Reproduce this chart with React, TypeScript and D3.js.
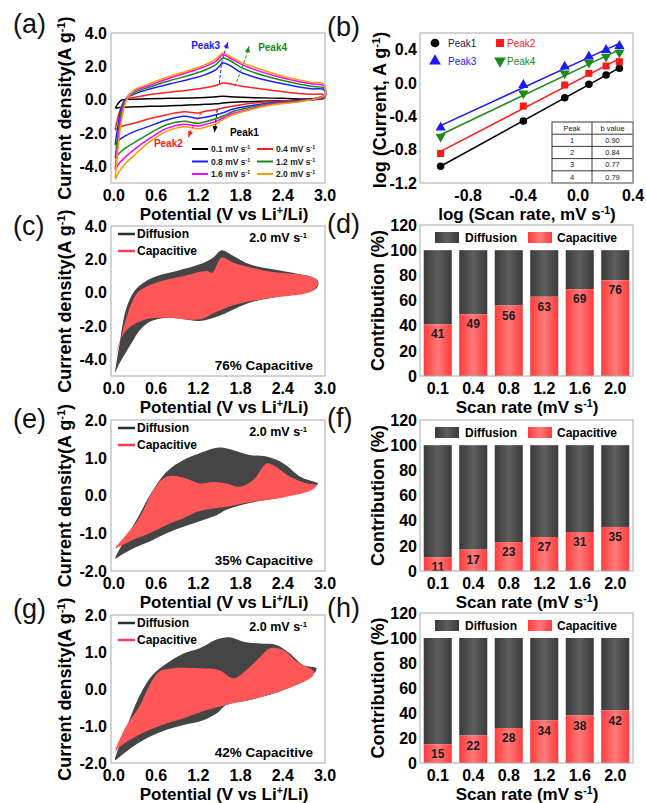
import React, { useEffect, useRef } from 'react'
import * as d3 from 'd3'

// ---------- (a) CV loops at several scan rates ----------
const rates = ['0.1', '0.4', '0.8', '1.2', '1.6', '2.0']
const rateColors = ['#000000', '#ff2020', '#2020ff', '#1b8a1b', '#ff00ff', '#ff9900']
const cvUpV = [0.02, 0.05, 0.1, 0.15, 0.2, 0.3, 0.5, 0.8, 1.1, 1.3, 1.45, 1.55, 1.65, 1.8, 2.0, 2.4, 2.8, 2.98]
const cvLoV = [3.0, 2.7, 2.2, 1.9, 1.7, 1.55, 1.45, 1.3, 1.2, 1.0, 0.75, 0.5, 0.3, 0.15, 0.08, 0.04, 0.025]
const cvUp = [
  [-0.5, -0.3, -0.05, 0.0, 0.02, 0.03, 0.05, 0.08, 0.1, 0.13, 0.17, 0.2, 0.18, 0.15, 0.12, 0.08, 0.05, 0.2],
  [-1.8, -1.2, -0.5, -0.1, 0.05, 0.15, 0.3, 0.45, 0.6, 0.72, 0.85, 1.0, 0.95, 0.82, 0.7, 0.48, 0.32, 0.3],
  [-2.7, -1.8, -0.6, -0.05, 0.15, 0.35, 0.62, 0.95, 1.25, 1.5, 1.8, 2.2, 2.05, 1.65, 1.35, 0.95, 0.65, 0.6],
  [-3.5, -2.4, -0.9, -0.15, 0.2, 0.45, 0.75, 1.15, 1.5, 1.78, 2.1, 2.5, 2.35, 1.95, 1.62, 1.15, 0.8, 0.7],
  [-4.2, -2.9, -1.2, -0.3, 0.2, 0.55, 0.85, 1.3, 1.7, 2.0, 2.3, 2.7, 2.5, 2.15, 1.8, 1.3, 0.95, 0.85],
  [-4.7, -3.3, -1.5, -0.4, 0.15, 0.6, 0.95, 1.4, 1.8, 2.1, 2.45, 2.8, 2.6, 2.25, 1.95, 1.4, 1.05, 0.95],
]
const cvLo = [
  [0.2, -0.02, -0.08, -0.12, -0.15, -0.2, -0.25, -0.28, -0.3, -0.33, -0.38, -0.4, -0.42, -0.45, -0.47, -0.5, -0.5],
  [0.1, -0.02, -0.12, -0.25, -0.38, -0.5, -0.6, -0.7, -0.8, -0.72, -0.9, -1.15, -1.4, -1.55, -1.65, -1.75, -1.8],
  [0.15, -0.03, -0.2, -0.4, -0.56, -0.78, -0.9, -1.05, -1.12, -1.0, -1.22, -1.6, -1.9, -2.2, -2.4, -2.6, -2.7],
  [0.2, -0.04, -0.25, -0.5, -0.7, -0.98, -1.15, -1.32, -1.42, -1.3, -1.5, -2.05, -2.55, -2.95, -3.2, -3.4, -3.5],
  [0.25, -0.06, -0.3, -0.6, -0.82, -1.1, -1.3, -1.48, -1.58, -1.48, -1.72, -2.35, -2.95, -3.5, -3.8, -4.05, -4.2],
  [0.3, -0.08, -0.35, -0.65, -0.9, -1.2, -1.45, -1.65, -1.75, -1.62, -1.9, -2.55, -3.3, -3.9, -4.3, -4.6, -4.75],
]
const peakGuides = [
  { label: 'Peak3', color: '#2020ff', pts: [[1.5, 1.0], [1.53, 2.2], [1.57, 2.8], [1.62, 3.45]], text: [1.51, 3.04], anchor: 'end' },
  { label: 'Peak4', color: '#1b8a1b', pts: [[1.72, 0.8], [1.82, 1.9], [1.88, 2.6], [1.92, 3.2]], text: [2.05, 2.92], anchor: 'start' },
  { label: 'Peak2', color: '#ff2020', pts: [[1.24, -0.8], [1.15, -1.45], [1.1, -1.8], [1.06, -2.25]], text: [0.98, -2.84], anchor: 'end' },
  { label: 'Peak1', color: '#000000', pts: [[1.47, -0.6], [1.45, -1.2], [1.44, -1.6], [1.43, -1.95]], text: [1.65, -2.18], anchor: 'start' },
]

// ---------- (b) log i vs log v ----------
const logRate = [-1, -0.398, -0.097, 0.079, 0.204, 0.301]
const peak1Log = [-1.0, -0.456, -0.176, -0.016, 0.096, 0.176]
const peak2Log = [-0.845, -0.276, -0.024, 0.116, 0.204, 0.256]
const peak3Log = [-0.536, -0.024, 0.196, 0.316, 0.396, 0.444]
const peak4Log = [-0.644, -0.124, 0.116, 0.244, 0.316, 0.364]
const peakIds = ['1', '2', '3', '4']
const bValues = ['0.90', '0.84', '0.77', '0.79']

// ---------- (c)(e)(g) diffusion / capacitive separation at 2.0 mV/s ----------
const cDiffUpV = [0.02, 0.085, 0.17, 0.27, 0.36, 0.55, 0.89, 1.22, 1.41, 1.53, 1.7, 1.93, 2.4, 2.84, 2.9]
const cDiffUpI = [-4.8, -3.0, -1.04, -0.05, 0.4, 0.9, 1.3, 1.7, 2.1, 2.55, 2.2, 1.7, 1.3, 0.9, 0.7]
const cDiffLoV = [2.9, 2.82, 2.4, 1.93, 1.46, 1.22, 0.99, 0.75, 0.51, 0.36, 0.27, 0.17, 0.085, 0.04]
const cDiffLoI = [0.4, 0.1, -0.2, -0.6, -1.45, -1.7, -1.6, -1.5, -1.74, -2.3, -2.9, -3.6, -4.2, -4.6]
const cCapUpV = [0.03, 0.085, 0.17, 0.27, 0.36, 0.6, 0.99, 1.32, 1.4, 1.53, 1.7, 2.17, 2.84, 2.9]
const cCapUpI = [-3.8, -3.0, -1.64, -0.45, 0.1, 0.6, 1.0, 1.3, 1.2, 2.1, 1.8, 1.3, 0.9, 0.6]
const cCapLoV = [2.82, 2.17, 1.7, 1.46, 1.22, 0.75, 0.51, 0.36, 0.27, 0.17, 0.085, 0.04]
const cCapLoI = [0.1, -0.35, -0.75, -1.15, -1.6, -1.5, -1.55, -1.74, -1.94, -2.3, -2.9, -3.6]

const eDiffUpV = [0.02, 0.17, 0.36, 0.51, 0.75, 0.99, 1.22, 1.5, 1.7, 1.93, 2.17, 2.41, 2.65, 2.84, 2.9]
const eDiffUpI = [-1.67, -1.13, -0.52, 0.0, 0.63, 0.94, 1.12, 1.27, 1.2, 1.07, 1.03, 0.85, 0.5, 0.37, 0.32]
const eDiffLoV = [2.82, 2.41, 1.93, 1.6, 1.46, 1.22, 0.99, 0.75, 0.51, 0.27, 0.085]
const eDiffLoI = [0.19, -0.03, -0.2, -0.38, -0.52, -0.68, -0.83, -1.0, -1.22, -1.41, -1.6]
const eCapUpV = [0.02, 0.17, 0.36, 0.55, 0.7, 0.84, 1.03, 1.22, 1.41, 1.6, 1.79, 1.98, 2.17, 2.27, 2.5, 2.75, 2.88]
const eCapUpI = [-1.4, -1.05, -0.6, 0.1, 0.45, 0.52, 0.45, 0.32, 0.36, 0.32, 0.23, 0.41, 0.85, 0.8, 0.5, 0.32, 0.28]
const eCapLoV = [2.82, 2.41, 1.93, 1.6, 1.22, 0.99, 0.75, 0.51, 0.27, 0.085]
const eCapLoI = [0.15, -0.05, -0.18, -0.3, -0.41, -0.6, -0.78, -1.0, -1.18, -1.35]

const gDiffUpV = [0.02, 0.17, 0.36, 0.55, 0.75, 0.99, 1.22, 1.46, 1.65, 1.84, 2.08, 2.31, 2.5, 2.69, 2.88]
const gDiffUpI = [-1.92, -1.1, -0.2, 0.38, 0.69, 0.96, 1.1, 1.34, 1.4, 1.28, 1.23, 1.19, 0.96, 0.65, 0.56]
const gDiffLoV = [2.82, 2.41, 1.93, 1.6, 1.46, 1.22, 0.99, 0.75, 0.51, 0.27, 0.085]
const gDiffLoI = [0.38, -0.03, -0.3, -0.43, -0.66, -0.88, -0.97, -1.1, -1.29, -1.56, -1.83]
const gCapUpV = [0.02, 0.17, 0.36, 0.51, 0.65, 0.84, 1.22, 1.5, 1.7, 1.88, 2.08, 2.22, 2.41, 2.6, 2.84]
const gCapUpI = [-1.69, -1.02, -0.48, 0.11, 0.47, 0.56, 0.56, 0.51, 0.29, 0.51, 0.87, 1.1, 1.05, 0.74, 0.47]
const gCapLoV = [2.82, 2.41, 1.93, 1.6, 1.32, 0.99, 0.75, 0.51, 0.27, 0.085]
const gCapLoI = [0.34, -0.03, -0.3, -0.43, -0.57, -0.79, -0.93, -1.1, -1.33, -1.56]

// ---------- (d)(f)(h) contribution bars ----------
const scanRates = ['0.1', '0.4', '0.8', '1.2', '1.6', '2.0']
const capD = [41, 49, 56, 63, 69, 76]
const capF = [11, 17, 23, 27, 31, 35]
const capH = [15, 22, 28, 34, 38, 42]

const potTicks = [0, 0.6, 1.2, 1.8, 2.4, 3.0]
const pctTicks = [0, 20, 40, 60, 80, 100, 120]

const FONT = '"Liberation Sans", Arial, Helvetica, sans-serif'
const FRAME = '#a8a8a8'
const DARK = '#454545'
const RED = '#ff5757'

type Sel = d3.Selection<any, any, any, any>
type Part = [string, boolean?]

function rich(t: Sel, parts: Part[]) {
  parts.forEach(([s, sup]) => {
    const ts = t.append('tspan').text(s)
    if (sup) ts.attr('baseline-shift', 'super').attr('font-size', '62%')
  })
  return t
}

function zip(xs: number[], ys: number[]) {
  return xs.map((x, i) => [x, ys[i]] as [number, number])
}

function fit(xs: number[], ys: number[]) {
  const mx = d3.mean(xs) as number
  const my = d3.mean(ys) as number
  let num = 0
  let den = 0
  xs.forEach((x, i) => {
    num += (x - mx) * (ys[i] - my)
    den += (x - mx) * (x - mx)
  })
  const k = num / den
  return [k, my - k * mx]
}

function frame(svg: Sel, x0: number, x1: number, y0: number, y1: number) {
  svg.append('rect').attr('x', x0).attr('y', y0).attr('width', x1 - x0).attr('height', y1 - y0)
    .attr('fill', 'none').attr('stroke', FRAME).attr('stroke-width', 1)
}

function panelLabel(svg: Sel, x: number, y: number, s: string) {
  svg.append('text').attr('x', x).attr('y', y).attr('font-size', 27).attr('fill', '#111').text(s)
}

function yTicks(svg: Sel, y: d3.ScaleLinear<number, number>, ticks: number[], fmt: (v: number) => string, xr: number) {
  ticks.forEach(v => {
    svg.append('text').attr('x', xr).attr('y', y(v)).attr('dy', '0.36em').attr('text-anchor', 'end')
      .attr('font-size', 16).attr('font-weight', 'bold').text(fmt(v))
  })
}

function yTitle(svg: Sel, cx: number, cy: number, parts: Part[]) {
  const t = svg.append('text').attr('transform', `translate(${cx},${cy}) rotate(-90)`).attr('dy', '0.36em')
    .attr('text-anchor', 'middle').attr('font-size', 18).attr('font-weight', 'bold')
  rich(t, parts)
}

function xTitle(svg: Sel, cx: number, y: number, parts: Part[]) {
  const t = svg.append('text').attr('x', cx).attr('y', y).attr('text-anchor', 'middle')
    .attr('font-size', 17).attr('font-weight', 'bold')
  rich(t, parts)
}

const potParts: Part[] = [['Potential (V vs Li'], ['+', true], ['/Li)']]
const cdParts: Part[] = [['Current density(A g'], ['-1', true], [')']]
const f1 = (v: number) => v.toFixed(1)

const leftX = d3.scaleLinear().domain([-0.04, 3.0]).range([111, 325])

function leftAxes(svg: Sel, y: d3.ScaleLinear<number, number>, ticks: number[]) {
  const [bottom, top] = y.range()
  frame(svg, 111, 325, top, bottom)
  yTicks(svg, y, ticks, f1, 107)
  potTicks.forEach(v => {
    svg.append('text').attr('x', leftX(v)).attr('y', bottom + 18).attr('text-anchor', 'middle')
      .attr('font-size', 16).attr('font-weight', 'bold').text(f1(v))
  })
  xTitle(svg, 224, bottom + 36.5, potParts)
  yTitle(svg, 65, (top + bottom) / 2, cdParts)
}

function separation(svg: Sel, y: d3.ScaleLinear<number, number>, ticks: number[],
  dUpV: number[], dUpI: number[], dLoV: number[], dLoI: number[],
  cUpV: number[], cUpI: number[], cLoV: number[], cLoI: number[], pct: string) {
  const [bottom, top] = y.range()
  const line = d3.line<[number, number]>().x(d => leftX(d[0])).y(d => y(d[1]))
    .curve(d3.curveCatmullRomClosed.alpha(0.5))
  svg.append('path').attr('d', line(zip(dUpV, dUpI).concat(zip(dLoV, dLoI)))).attr('fill', DARK)
  svg.append('path').attr('d', line(zip(cUpV, cUpI).concat(zip(cLoV, cLoI)))).attr('fill', RED)
  leftAxes(svg, y, ticks)
  const leg = [['Diffusion', '#243434'], ['Capacitive', '#ff3a5a']]
  leg.forEach(([name, col], i) => {
    const ly = top + 8 + i * 17
    svg.append('line').attr('x1', 118).attr('x2', 135).attr('y1', ly).attr('y2', ly)
      .attr('stroke', col).attr('stroke-width', 2.5)
    svg.append('text').attr('x', 137).attr('y', ly).attr('dy', '0.36em').attr('font-size', 12)
      .attr('font-weight', 'bold').text(name)
  })
  rich(svg.append('text').attr('x', 307).attr('y', top + 16).attr('text-anchor', 'end')
    .attr('font-size', 12.5).attr('font-weight', 'bold'), [['2.0 mV s'], ['-1', true]])
  svg.append('text').attr('x', 313).attr('y', bottom - 6).attr('text-anchor', 'end')
    .attr('font-size', 13.5).attr('font-weight', 'bold').text(`${pct}% Capacitive`)
}

const barX = d3.scaleBand<string>().domain(scanRates).range([420, 633]).paddingInner(0.21).paddingOuter(0.105)

function bars(svg: Sel, y: d3.ScaleLinear<number, number>, cap: number[]) {
  const [bottom, top] = y.range()
  scanRates.forEach((r, i) => {
    const x = barX(r) as number
    const w = barX.bandwidth()
    svg.append('rect').attr('x', x).attr('width', w).attr('y', y(100)).attr('height', y(cap[i]) - y(100))
      .attr('fill', 'url(#gGray)')
    svg.append('rect').attr('x', x).attr('width', w).attr('y', y(cap[i])).attr('height', y(0) - y(cap[i]))
      .attr('fill', 'url(#gRed)')
    svg.append('text').attr('x', x + w / 2).attr('y', y(cap[i]) + 14).attr('text-anchor', 'middle')
      .attr('font-size', 12).attr('font-weight', 'bold').attr('fill', '#1a1a1a').text(cap[i])
    svg.append('text').attr('x', x + w / 2).attr('y', bottom + 18).attr('text-anchor', 'middle')
      .attr('font-size', 16).attr('font-weight', 'bold').text(r)
  })
  frame(svg, 420, 633, top, bottom)
  yTicks(svg, y, pctTicks, v => String(v), 417)
  yTitle(svg, 378, (top + bottom) / 2, [['Contribution (%)']])
  xTitle(svg, 527, bottom + 36.5, [['Scan rate (mV s'], ['-1', true], [')']])
  const leg = [['Diffusion', 'url(#gGray)', 435, 465], ['Capacitive', 'url(#gRed)', 528, 557]]
  leg.forEach(([name, fill, sx, tx]) => {
    svg.append('rect').attr('x', sx as number).attr('y', top + 7).attr('width', 24).attr('height', 11)
      .attr('fill', fill as string)
    svg.append('text').attr('x', tx as number).attr('y', top + 12.5).attr('dy', '0.36em')
      .attr('font-size', 12).attr('font-weight', 'bold').text(name as string)
  })
}

function draw(svg: Sel) {
  const defs = svg.append('defs')
  const grad = (id: string, stops: string[]) => {
    const g = defs.append('linearGradient').attr('id', id).attr('x1', '0%').attr('x2', '100%')
    stops.forEach((c, i) => g.append('stop').attr('offset', `${(i * 100) / (stops.length - 1)}%`).attr('stop-color', c))
  }
  grad('gGray', ['#3a3a3a', '#5e5e5e', '#3a3a3a'])
  grad('gRed', ['#ff3b3b', '#ff7a7a', '#ff3b3b'])

  svg.append('rect').attr('width', 646).attr('height', 803).attr('fill', '#fff')

  // (a)
  const yA = d3.scaleLinear().domain([-5, 4]).range([183, 33])
  const cvLine = d3.line<[number, number]>().x(d => leftX(d[0])).y(d => yA(d[1]))
    .curve(d3.curveCatmullRom.alpha(0.5))
  rates.forEach((r, i) => {
    const pts = zip(cvUpV, cvUp[i]).concat(zip(cvLoV, cvLo[i]))
    pts.push([cvUpV[0], cvUp[i][0]])
    svg.append('path').attr('d', cvLine(pts)).attr('fill', 'none').attr('stroke', rateColors[i])
      .attr('stroke-width', 1.5)
  })
  peakGuides.forEach(g => {
    const p = g.pts.map(d => [leftX(d[0]), yA(d[1])] as [number, number])
    svg.append('path').attr('d', d3.line()(p)).attr('fill', 'none').attr('stroke', g.color)
      .attr('stroke-width', 1).attr('stroke-dasharray', '3,2')
    const [x1, y1] = p[p.length - 2]
    const [x2, y2] = p[p.length - 1]
    const ang = (Math.atan2(y2 - y1, x2 - x1) * 180) / Math.PI
    svg.append('path').attr('d', 'M0,0 L-6,-2.6 L-6,2.6 Z').attr('fill', g.color)
      .attr('transform', `translate(${x2},${y2}) rotate(${ang})`)
    svg.append('text').attr('x', leftX(g.text[0])).attr('y', yA(g.text[1])).attr('text-anchor', g.anchor)
      .attr('font-size', 10).attr('font-weight', 'bold').attr('fill', g.color).text(g.label)
  })
  rates.forEach((r, i) => {
    const col = i % 2
    const row = Math.floor(i / 2)
    const lx = col === 0 ? 192 : 257
    const ly = 149 + row * 12.5
    svg.append('line').attr('x1', lx).attr('x2', lx + 16).attr('y1', ly).attr('y2', ly)
      .attr('stroke', rateColors[i]).attr('stroke-width', 2)
    rich(svg.append('text').attr('x', lx + 19).attr('y', ly).attr('dy', '0.36em').attr('font-size', 8.5)
      .attr('font-weight', 'bold').attr('fill', '#222'), [[`${r} mV s`], ['-1', true]])
  })
  leftAxes(svg, yA, [-4, -2, 0, 2, 4])
  panelLabel(svg, 13, 33, '(a)')

  // (b)
  const xB = d3.scaleLinear().domain([-1.15, 0.4]).range([420, 633])
  const yB = d3.scaleLinear().domain([-1.2, 0.6]).range([183, 33])
  const series = [
    { ys: peak1Log, color: '#000000', sym: d3.symbolCircle, size: 45, rot: 0, name: 'Peak1', tc: '#1a1a4a' },
    { ys: peak2Log, color: '#ff1a1a', sym: d3.symbolSquare, size: 50, rot: 0, name: 'Peak2', tc: '#ff1a1a' },
    { ys: peak3Log, color: '#1a1aff', sym: d3.symbolTriangle, size: 45, rot: 0, name: 'Peak3', tc: '#1a1aff' },
    { ys: peak4Log, color: '#1b8a1b', sym: d3.symbolTriangle, size: 45, rot: 180, name: 'Peak4', tc: '#1b8a1b' },
  ]
  series.forEach(s => {
    const [k, b] = fit(logRate, s.ys)
    const x0 = logRate[0]
    const x1 = logRate[logRate.length - 1]
    svg.append('line').attr('x1', xB(x0)).attr('x2', xB(x1)).attr('y1', yB(k * x0 + b)).attr('y2', yB(k * x1 + b))
      .attr('stroke', s.color).attr('stroke-width', 1.6)
    logRate.forEach((lx, i) => {
      svg.append('path').attr('d', d3.symbol().type(s.sym).size(s.size)())
        .attr('transform', `translate(${xB(lx)},${yB(s.ys[i])}) rotate(${s.rot})`).attr('fill', s.color)
    })
  })
  series.forEach((s, i) => {
    const sx = i % 2 === 0 ? 435 : 500
    const tx = i % 2 === 0 ? 448 : 507
    const sy = i < 2 ? 43 : 61
    svg.append('path').attr('d', d3.symbol().type(s.sym).size(s.size + 15)())
      .attr('transform', `translate(${sx},${sy}) rotate(${s.rot})`).attr('fill', s.color)
    svg.append('text').attr('x', tx).attr('y', sy).attr('dy', '0.36em').attr('font-size', 10)
      .attr('fill', s.tc).text(s.name)
  })
  // b-value table
  const tX = [552, 592, 633]
  const rowH = 12.2
  const tTop = 122
  const rows = [['Peak', 'b value']].concat(peakIds.map((p, i) => [p, bValues[i]]))
  svg.append('rect').attr('x', tX[0]).attr('y', tTop).attr('width', tX[2] - tX[0]).attr('height', rowH * rows.length)
    .attr('fill', '#fff').attr('stroke', '#222').attr('stroke-width', 0.9)
  svg.append('line').attr('x1', tX[1]).attr('x2', tX[1]).attr('y1', tTop).attr('y2', tTop + rowH * rows.length)
    .attr('stroke', '#222').attr('stroke-width', 0.9)
  rows.forEach((r, i) => {
    if (i > 0) {
      svg.append('line').attr('x1', tX[0]).attr('x2', tX[2]).attr('y1', tTop + i * rowH).attr('y2', tTop + i * rowH)
        .attr('stroke', '#222').attr('stroke-width', 0.9)
    }
    r.forEach((c, j) => {
      svg.append('text').attr('x', (tX[j] + tX[j + 1]) / 2).attr('y', tTop + (i + 0.5) * rowH).attr('dy', '0.36em')
        .attr('text-anchor', 'middle').attr('font-size', 7.5).attr('fill', '#222').text(c)
    })
  })
  frame(svg, 420, 633, 33, 183)
  yTicks(svg, yB, [-1.2, -0.8, -0.4, 0, 0.4], f1, 417)
  ;[-0.8, -0.4, 0, 0.4].forEach(v => {
    svg.append('text').attr('x', xB(v)).attr('y', 201).attr('text-anchor', 'middle')
      .attr('font-size', 16).attr('font-weight', 'bold').text(f1(v))
  })
  xTitle(svg, 527, 219.5, [['log (Scan rate, mV s'], ['-1', true], [')']])
  yTitle(svg, 380, 110, [['log (Current, A g'], ['-1', true], [')']])
  panelLabel(svg, 327, 36, '(b)')

  // (c) (e) (g)
  separation(svg, d3.scaleLinear().domain([-5, 4]).range([376, 226]), [-4, -2, 0, 2, 4],
    cDiffUpV, cDiffUpI, cDiffLoV, cDiffLoI, cCapUpV, cCapUpI, cCapLoV, cCapLoI, '76')
  panelLabel(svg, 13, 235, '(c)')
  separation(svg, d3.scaleLinear().domain([-2, 2]).range([571, 420]), [-2, -1, 0, 1, 2],
    eDiffUpV, eDiffUpI, eDiffLoV, eDiffLoI, eCapUpV, eCapUpI, eCapLoV, eCapLoI, '35')
  panelLabel(svg, 13, 428, '(e)')
  separation(svg, d3.scaleLinear().domain([-2, 2]).range([763, 615]), [-2, -1, 0, 1, 2],
    gDiffUpV, gDiffUpI, gDiffLoV, gDiffLoI, gCapUpV, gCapUpI, gCapLoV, gCapLoI, '42')
  panelLabel(svg, 13, 618, '(g)')

  // (d) (f) (h)
  bars(svg, d3.scaleLinear().domain([0, 120]).range([376, 225]), capD)
  panelLabel(svg, 327, 233, '(d)')
  bars(svg, d3.scaleLinear().domain([0, 120]).range([571, 420]), capF)
  panelLabel(svg, 327, 427, '(f)')
  bars(svg, d3.scaleLinear().domain([0, 120]).range([763, 613]), capH)
  panelLabel(svg, 327, 617, '(h)')
}

export default function App() {
  const ref = useRef<SVGSVGElement>(null)
  useEffect(() => {
    const svg = d3.select(ref.current)
    svg.selectAll('*').remove()
    draw(svg)
  }, [])
  return (
    <svg ref={ref} width={646} height={803} fontFamily={FONT}
      style={{ position: 'absolute', left: 0, top: 0, background: '#fff' }} />
  )
}
